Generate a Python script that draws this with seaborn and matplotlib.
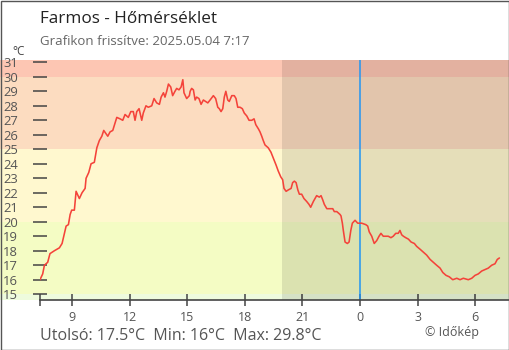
import matplotlib
matplotlib.use("Agg")
import matplotlib.pyplot as plt
import seaborn as sns
import pandas as pd
from matplotlib.transforms import blended_transform_factory
from matplotlib.patches import Rectangle

# ---- data (hours since 2025.05.03 00:00) ----
hours = [7.33, 7.47, 7.56, 7.73, 7.85, 8.08, 8.34, 8.48, 8.60, 8.69, 8.81, 8.90, 8.98,
         9.12, 9.21, 9.38, 9.52, 9.68, 9.73, 9.87, 9.99, 10.16, 10.29, 10.42, 10.55,
         10.65, 10.86, 10.98, 11.12, 11.19, 11.33, 11.50, 11.64, 11.76, 11.93, 12.06,
         12.19, 12.28, 12.37, 12.49, 12.63, 12.71, 12.85, 12.97, 13.15, 13.27, 13.41,
         13.55, 13.64, 13.76, 13.84, 13.93, 14.02, 14.14, 14.24, 14.36, 14.45, 14.57,
         14.68, 14.77, 14.83, 14.97, 15.11, 15.15, 15.23, 15.32, 15.41, 15.49, 15.61,
         15.72, 15.84, 15.96, 16.07, 16.19, 16.36, 16.48, 16.59, 16.67, 16.76, 16.85,
         16.93, 17.01, 17.11, 17.19, 17.32, 17.45, 17.54, 17.63, 17.75, 17.87, 17.97,
         18.10, 18.22, 18.36, 18.48, 18.57, 18.71, 18.79, 18.88, 18.96, 19.05, 19.22,
         19.36, 19.48, 19.63, 19.74, 19.87, 19.97, 20.04, 20.15, 20.27, 20.41, 20.49,
         20.58, 20.67, 20.76, 20.84, 20.96, 21.08, 21.22, 21.34, 21.43, 21.57, 21.74,
         21.88, 21.97, 22.06, 22.14, 22.27, 22.44, 22.58, 22.66, 22.79, 22.96, 23.01,
         23.08, 23.13, 23.22, 23.34, 23.43, 23.52, 23.60, 23.74, 23.88, 24.09, 24.30,
         24.40, 24.48, 24.61, 24.74, 24.87, 24.99, 25.09, 25.21, 25.39, 25.47, 25.61,
         25.73, 25.86, 25.99, 26.08, 26.17, 26.26, 26.38, 26.52, 26.66, 26.83, 26.95,
         27.13, 27.30, 27.47, 27.65, 27.82, 27.99, 28.17, 28.31, 28.48, 28.65, 28.83,
         29.04, 29.21, 29.38, 29.64, 29.82, 29.99, 30.16, 30.34, 30.51, 30.68, 30.86,
         31.03, 31.15, 31.26]
temp_c = [16.0, 16.4, 17.0, 17.2, 17.8, 18.0, 18.2, 18.5, 19.2, 19.7, 19.8, 20.5, 20.8,
          20.8, 22.1, 21.6, 22.0, 22.3, 23.0, 23.4, 24.0, 24.1, 25.1, 25.6, 25.9,
          26.3, 25.9, 26.2, 26.3, 26.6, 27.2, 27.1, 27.0, 27.4, 27.2, 27.6,
          27.6, 27.0, 27.6, 27.8, 27.0, 27.5, 28.0, 27.9, 28.0, 28.5, 28.2,
          28.1, 28.6, 28.9, 28.6, 29.0, 29.5, 29.3, 28.7, 29.0, 29.2, 29.1,
          29.3, 29.8, 28.9, 28.5, 28.7, 29.0, 29.2, 29.1, 28.4, 28.6, 28.5,
          28.1, 28.4, 28.3, 28.2, 28.4, 28.7, 28.5, 27.9, 27.8, 27.6, 27.8,
          28.6, 29.0, 28.4, 28.3, 28.7, 28.7, 28.5, 27.9, 27.9, 27.8, 27.5,
          27.3, 27.0, 27.0, 27.1, 26.7, 26.4, 26.2, 25.9, 25.6, 25.3, 25.1,
          24.8, 24.4, 23.9, 23.5, 23.1, 22.9, 22.3, 22.1, 22.2, 22.3, 22.7,
          22.8, 22.7, 22.2, 21.9, 21.9, 21.6, 21.4, 21.2, 21.0, 21.4, 21.8,
          21.7, 21.8, 21.5, 21.2, 20.9, 20.9, 20.9, 20.7, 20.7, 20.5, 20.4,
          19.9, 19.4, 18.6, 18.5, 18.6, 19.4, 19.9, 20.1, 19.9, 19.9, 19.8,
          19.7, 19.3, 19.0, 18.5, 18.7, 19.0, 19.2, 19.0, 19.0, 19.0, 18.9,
          19.0, 19.2, 19.2, 19.4, 19.1, 19.0, 18.9, 18.8, 18.6, 18.5, 18.3,
          18.1, 17.9, 17.7, 17.4, 17.2, 17.0, 16.8, 16.5, 16.3, 16.2, 16.0,
          16.1, 16.0, 16.1, 16.0, 16.1, 16.3, 16.4, 16.6, 16.7, 16.8, 17.0,
          17.1, 17.4, 17.5]

xtick_hours = [9, 12, 15, 18, 21, 24, 27, 30]
xtick_labels = ["9", "12", "15", "18", "21", "0", "3", "6"]
ytick_values = list(range(15, 32))
band_edges = [14.6, 15, 20, 25, 30, 31.16]
band_colors = ["#EEFBDD", "#F4FCC4", "#FFF8CF", "#FCDCC0", "#FDC6B3"]
night_start = 19.95
midnight = 24
x_start, x_end = 7.33, 31.76
title = "Farmos - Hőmérséklet"
subtitle = "Grafikon frissítve: 2025.05.04 7:17"
summary = "Utolsó: 17.5°C  Min: 16°C  Max: 29.8°C"
credit = "© Időkép"

df = pd.DataFrame({"hour": hours, "temp": temp_c})

sns.set_style("white")
plt.rcParams["font.family"] = ["Open Sans", "DejaVu Sans"]

W, H = 510, 350
fig = plt.figure(figsize=(W / 100, H / 100), dpi=100)
fig.patch.set_facecolor("white")
ax = fig.add_axes([40 / W, 50 / H, 469 / W, 240 / H])
ax.set_facecolor("none")

# background temperature bands spanning full figure width
blend = blended_transform_factory(fig.transFigure, ax.transData)
for lo, hi, c in zip(band_edges[:-1], band_edges[1:], band_colors):
    ax.add_patch(Rectangle((0, lo), 1, hi - lo, transform=blend, facecolor=c,
                           edgecolor="none", clip_on=False, zorder=0))

# night shading
ax.axvspan(night_start, x_end, color="black", alpha=0.1, lw=0, zorder=1)
# midnight line
ax.axvline(midnight, color="#2196F3", lw=1.1, zorder=2)

sns.lineplot(data=df, x="hour", y="temp", ax=ax, color="#F4433A", lw=1.15,
             zorder=3, estimator=None, sort=False)

ax.set_xlim(x_start, x_end)
ax.set_ylim(band_edges[0], band_edges[-1])
ax.set_xlabel("")
ax.set_ylabel("")
ax.set_xticks([x_start] + xtick_hours)
ax.set_xticklabels([""] + xtick_labels)
ax.set_yticks(ytick_values)
ax.set_yticklabels([str(v) for v in ytick_values])

for s in ["top", "right", "left"]:
    ax.spines[s].set_visible(False)
ax.spines["bottom"].set_color("#444444")
ax.spines["bottom"].set_linewidth(1.2)

ax.tick_params(axis="y", direction="inout", length=9.4, width=1.1, color="#444444",
               pad=11.2, labelsize=9.4, labelcolor="#555555", left=True)
ax.tick_params(axis="x", direction="inout", length=8, width=1.1, color="#444444",
               pad=3.6, labelsize=9, labelcolor="#555555", bottom=True)

# texts
fig.text(40 / W, 1 - 23.3 / H, title, fontsize=12.3, color="#222222", va="baseline")
fig.text(40 / W, 1 - 45 / H, subtitle, fontsize=9.5, color="#666666", va="baseline")
fig.text(12 / W, 1 - 55 / H, "°C", fontsize=8.5, color="#444444", va="baseline")
fig.text(40 / W, 1 - 340 / H, summary, fontsize=11.5, color="#555555", va="baseline")
fig.text(425 / W, 1 - 335.7 / H, credit, fontsize=9, color="#555555", va="baseline")

# figure frame
fig.patches.append(Rectangle((0.5 / W, 0.5 / H), 1 - 1.5 / W, 1 - 1.5 / H,
                             transform=fig.transFigure, fill=False,
                             edgecolor="#555555", lw=1))

fig.savefig("out.png", dpi=100)
